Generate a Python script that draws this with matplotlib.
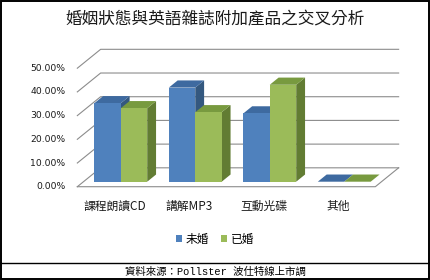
import matplotlib
matplotlib.use('Agg')
import matplotlib.pyplot as plt
from matplotlib.patches import Polygon, Rectangle
from matplotlib.lines import Line2D

# ------------------------------------------
# data
# ------------------------------------------
title = '婚姻狀態與英語雜誌附加產品之交叉分析'
categories = ['課程朗讀CD', '講解MP3', '互動光碟', '其他']
series_names = ['未婚', '已婚']
unmarried = [33.1, 39.7, 28.8, 0.0]
married = [31.0, 29.3, 40.9, 0.0]
yticks = [0, 10, 20, 30, 40, 50]
source = '資料來源：Pollster 波仕特線上市調'

CJK = ['Noto Sans CJK TC', 'DejaVu Sans']

BLUE, BLUE_TOP, BLUE_SIDE = '#4f81bd', '#3e6aa0', '#34587f'
GREEN, GREEN_TOP, GREEN_SIDE = '#9bbb59', '#789a3f', '#627c33'
GRID = '#8c8c8c'

# fake 3d: depth z goes 0 (front of floor) -> 1 (back wall)
ZB = 0.265      # depth of the bar front faces
BD = 0.38       # bar depth
DX = 0.3128     # x shift for full depth (category units)
DV = 7.97       # y shift for full depth (percent units)
W = 0.355       # bar width


def proj(x, v, z):
    return x + (z - ZB) * DX, v + (z - ZB) * DV


fig = plt.figure(figsize=(4.3, 2.8), dpi=100)
ax = fig.add_axes([60 / 430, 80 / 280, 350 / 430, 160 / 280])
ax.axis('off')

n = len(categories)
left, right = -0.5, n - 0.5

# walls + gridlines
for v in yticks:
    pts = [proj(left, v, 0), proj(left, v, 1), proj(right, v, 1)]
    ax.plot([p[0] for p in pts], [p[1] for p in pts], color=GRID, lw=0.8, zorder=1)
    ax.annotate(f'{v:.2f}%', xy=proj(left, v, 0), xytext=(-8.5, 0),
                textcoords='offset points', ha='right', va='center',
                fontsize=6.7, color='#1a1a1a')

floor = [proj(left, 0, 0), proj(right, 0, 0), proj(right, 0, 1)]
ax.plot([p[0] for p in floor], [p[1] for p in floor], color=GRID, lw=0.8, zorder=1)

# bars
idx = list(range(n))
bars_u = ax.bar([i - W for i in idx], unmarried, width=W, align='edge',
                color=BLUE, zorder=3, label=series_names[0])
bars_m = ax.bar(idx, married, width=W, align='edge',
                color=GREEN, zorder=5, label=series_names[1])


def box(x0, x1, v, top_c, side_c, z):
    top = [proj(x0, v, ZB), proj(x1, v, ZB), proj(x1, v, ZB + BD), proj(x0, v, ZB + BD)]
    side = [proj(x1, 0, ZB), proj(x1, v, ZB), proj(x1, v, ZB + BD), proj(x1, 0, ZB + BD)]
    ax.add_patch(Polygon(side, closed=True, color=side_c, lw=0, zorder=z))
    ax.add_patch(Polygon(top, closed=True, color=top_c, lw=0, zorder=z))


for i in idx:
    box(i - W, i, unmarried[i], BLUE_TOP, BLUE_SIDE, 2)
    box(i, i + W, married[i], GREEN_TOP, GREEN_SIDE, 4)

for i, cat in enumerate(categories):
    ax.annotate(cat, xy=proj(i, 0, 0), xytext=(0, -14.4), textcoords='offset points',
                ha='center', va='center', fontsize=8.5, family=CJK, color='#1a1a1a')

ax.set_xlim((60 - 120.75) / 74.5, (410 - 120.75) / 74.5)
ax.set_ylim((181.7 - 200) / 2.37, (181.7 - 40) / 2.37)

# title, legend, footer
fig.text(0.5, 1 - 20 / 280, title, ha='center', va='center', fontsize=12,
         family=CJK, color='#1a1a1a')

fig.legend(handles=[bars_u, bars_m], labels=series_names, loc='center',
           bbox_to_anchor=(0.5, (280 - 239) / 280), ncol=2, frameon=False,
           handlelength=0.55, handleheight=0.55, handletextpad=0.3,
           columnspacing=1.0, prop={'family': CJK, 'size': 8.5})

fig.add_artist(Line2D([0, 1], [17 / 280, 17 / 280], color='black', lw=1.0))
fig.text(0.5, (280 - 271.5) / 280, source, ha='center', va='center', fontsize=7.5,
         family=['Liberation Mono', 'Noto Sans CJK TC'], color='black')
fig.add_artist(Rectangle((0.002, 0.003), 0.996, 0.994, fill=False,
                         edgecolor='black', lw=1.4, transform=fig.transFigure))

fig.savefig('out.png', dpi=100)
